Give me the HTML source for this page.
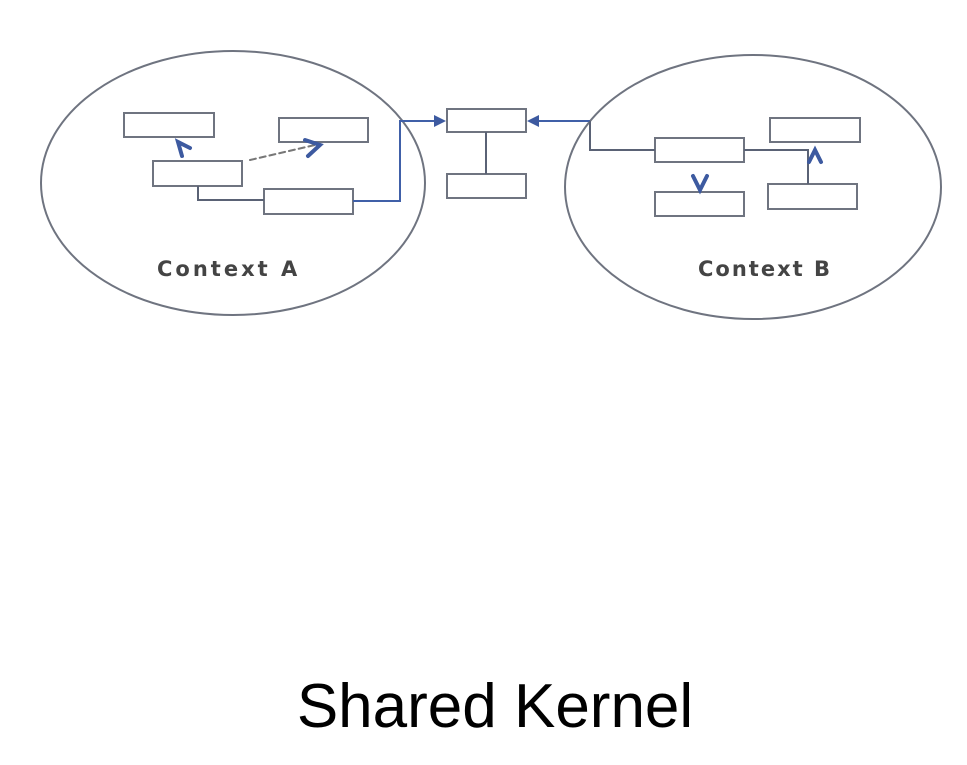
<!DOCTYPE html>
<html><head><style>
body{margin:0;background:#fff;width:967px;height:760px;overflow:hidden}
</style></head><body>
<svg width="967" height="760" xmlns="http://www.w3.org/2000/svg">
<defs><marker id="a" markerWidth="12" markerHeight="12" refX="10" refY="6" orient="auto" markerUnits="userSpaceOnUse"><path d="M0,0 L12,6 L0,12 Z" fill="#3d5aa0"/></marker></defs>
<g fill="none" stroke="#6f7480" stroke-width="2">
<ellipse cx="233" cy="183" rx="192" ry="132"/>
<ellipse cx="753" cy="187" rx="188" ry="132"/>
</g>
<g fill="#fff" stroke="#6f7480" stroke-width="2">
<rect x="124" y="113" width="90" height="24"/>
<rect x="279" y="118" width="89" height="24"/>
<rect x="153" y="161" width="89" height="25"/>
<rect x="264" y="189" width="89" height="25"/>
<rect x="447" y="109" width="79" height="23"/>
<rect x="447" y="174" width="79" height="24"/>
<rect x="655" y="138" width="89" height="24"/>
<rect x="770" y="118" width="90" height="24"/>
<rect x="655" y="192" width="89" height="24"/>
<rect x="768" y="184" width="89" height="25"/>
</g>
<g fill="none" stroke="#5a6275" stroke-width="2">
<path d="M198,186 V200 H264"/>
<path d="M353,201 H400 V121 H444" stroke="#4060a8" marker-end="url(#a)"/>
<path d="M486,132 V174"/>
<path d="M590,121 H529" stroke="#4060a8" marker-end="url(#a)"/>
<path d="M590,121 V150 H655"/>
<path d="M744,150 H808 V184"/>
</g>
<g fill="none" stroke="#3d5aa0" stroke-width="4" stroke-linecap="round">
<path d="M182,156 L178,142 L190,148"/>
<path d="M250,160 L315,145" stroke-width="2" stroke-dasharray="6,4" stroke="#777"/>
<path d="M305,140 L320,145 L308,156"/>
<path d="M693,176 L700,190 L707,176"/>
<path d="M809,162 L815,150 L821,162"/>
</g>
<text x="157" y="276" font-family="'Comic Sans MS','DejaVu Sans',sans-serif" font-size="21" font-weight="bold" fill="#444" letter-spacing="3">Context A</text>
<text x="698" y="276" font-family="'Comic Sans MS','DejaVu Sans',sans-serif" font-size="21" font-weight="bold" fill="#444" letter-spacing="2">Context B</text>
<text x="495" y="727" text-anchor="middle" font-family="'Liberation Sans',sans-serif" font-size="62" fill="#000">Shared Kernel</text>
</svg>
</body></html>
